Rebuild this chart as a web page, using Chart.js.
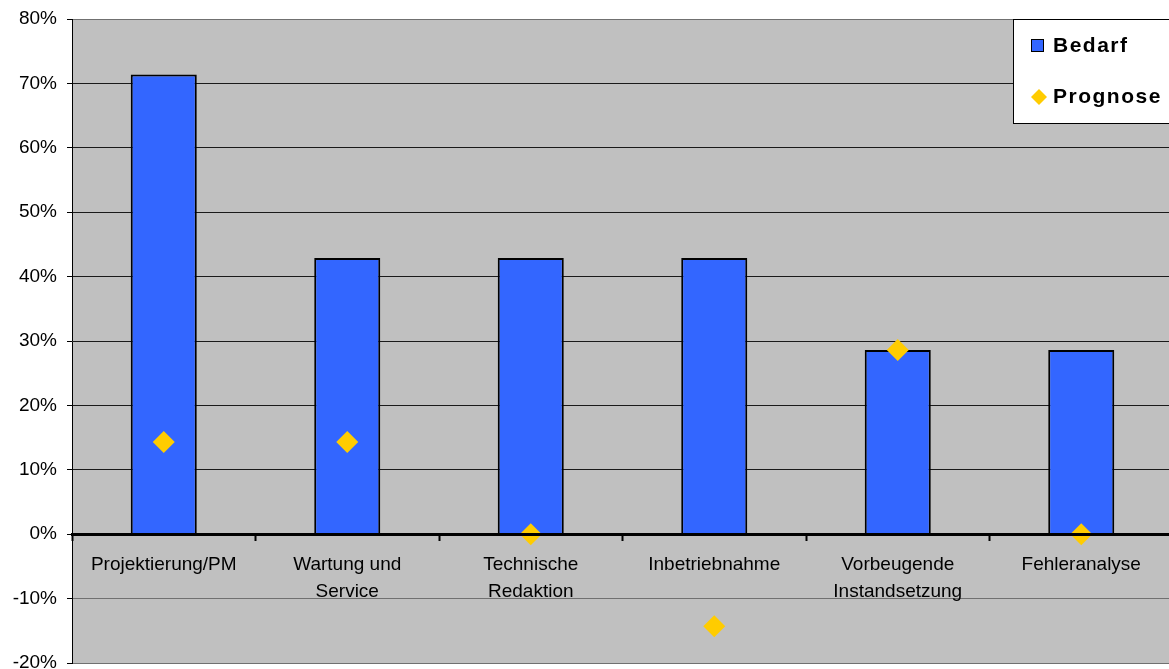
<!DOCTYPE html>
<html>
<head>
<meta charset="utf-8">
<script src="https://cdn.jsdelivr.net/npm/chart.js@4/dist/chart.umd.min.js"></script>
<style>
  html, body { margin: 0; padding: 0; background: #ffffff; overflow: hidden; }
  canvas { display: block; }
</style>
</head>
<body>
<canvas id="c" width="1174" height="669"></canvas>
<script>
// Kategorien (Tätigkeitsfelder)
const categories = [
  'Projektierung/PM',
  ['Wartung und', 'Service'],
  ['Technische', 'Redaktion'],
  'Inbetriebnahme',
  ['Vorbeugende', 'Instandsetzung'],
  'Fehleranalyse'
];
// Anteile in Prozent
const bedarf   = [71.4, 42.9, 42.9, 42.9, 28.6, 28.6];
const prognose = [14.3, 14.3, 0, -14.3, 28.6, 0];
// Wertebereich der Y-Achse
const yMin = -20, yMax = 80, yStep = 10;

const FONT = 'Arial, "Liberation Sans", sans-serif';

// Legende als Kasten oben rechts in der Zeichenfläche
const boxLegend = {
  id: 'boxLegend',
  afterDraw(chart) {
    const ctx = chart.ctx;
    const x = 1013.5, y = 19.5, w = 170, h = 104;
    ctx.save();
    ctx.fillStyle = '#ffffff';
    ctx.fillRect(x, y, w, h);
    ctx.strokeStyle = '#000000';
    ctx.lineWidth = 1;
    ctx.strokeRect(x, y, w, h);
    const ds = chart.data.datasets;
    ctx.font = 'bold 21px ' + FONT;
    if ('letterSpacing' in ctx) ctx.letterSpacing = '1.5px';
    ctx.textBaseline = 'middle';
    // Bedarf: Quadrat
    ctx.fillStyle = ds[0].backgroundColor;
    ctx.fillRect(1031.5, 39.5, 12, 12);
    ctx.strokeStyle = '#000000';
    ctx.strokeRect(1031.5, 39.5, 12, 12);
    ctx.fillStyle = '#000000';
    ctx.fillText(ds[0].label, 1053, 46);
    // Prognose: Raute
    ctx.fillStyle = ds[1].backgroundColor;
    ctx.beginPath();
    ctx.moveTo(1039, 89);
    ctx.lineTo(1047, 97);
    ctx.lineTo(1039, 105);
    ctx.lineTo(1031, 97);
    ctx.closePath();
    ctx.fill();
    ctx.fillStyle = '#000000';
    ctx.fillText(ds[1].label, 1053, 97);
    ctx.restore();
  }
};

// grauer Hintergrund der Zeichenfläche
const plotBg = {
  id: 'plotBg',
  beforeDraw(chart) {
    const a = chart.chartArea, ctx = chart.ctx;
    ctx.save();
    ctx.fillStyle = '#C0C0C0';
    ctx.fillRect(a.left, a.top, a.right - a.left, a.bottom - a.top);
    ctx.restore();
  }
};

new Chart(document.getElementById('c'), {
  type: 'bar',
  data: {
    labels: categories,
    datasets: [
      {
        label: 'Bedarf',
        data: bedarf,
        backgroundColor: '#3366FF',
        borderColor: '#000000',
        borderWidth: 2,
        borderSkipped: 'bottom',
        barPercentage: 0.36,
        categoryPercentage: 1.0,
        order: 2
      },
      {
        label: 'Prognose',
        type: 'line',
        data: prognose,
        showLine: false,
        pointStyle: 'rectRot',
        pointRadius: 11,
        pointHoverRadius: 11,
        backgroundColor: '#FFCC00',
        borderColor: '#FFCC00',
        pointBorderWidth: 0,
        order: 1
      }
    ]
  },
  options: {
    responsive: false,
    maintainAspectRatio: false,
    animation: false,
    events: [],
    layout: { autoPadding: false, padding: { top: 19, bottom: 6, left: 0, right: 1 } },
    plugins: {
      legend: { display: false },
      tooltip: { enabled: false }
    },
    scales: {
      x: {
        position: { y: 0 },
        offset: true,
        afterFit(scale) { scale.paddingLeft = 0; scale.paddingRight = 0; },
        grid: {
          offset: true,
          drawOnChartArea: false,
          drawTicks: true,
          tickLength: 5,
          tickWidth: 2,
          tickColor: '#000000'
        },
        border: { display: true, color: '#000000', width: 3, z: 1 },
        ticks: {
          color: '#000000',
          font: { family: FONT, size: 19, lineHeight: 1.42 },
          padding: 12,
          maxRotation: 0,
          autoSkip: false
        }
      },
      y: {
        min: yMin,
        max: yMax,
        afterFit(scale) {
          scale.width = 72;
          scale.paddingTop = 0;
          scale.paddingBottom = 0;
        },
        ticks: {
          stepSize: yStep,
          color: '#000000',
          font: { family: FONT, size: 19 },
          padding: 10,
          callback: v => v + '%'
        },
        grid: {
          color: c => (c.tick && (c.tick.value < 0 || c.tick.value === yMax)) ? '#707070' : '#1a1a1a',
          lineWidth: 1,
          tickLength: 5,
          tickColor: '#000000'
        },
        border: { display: true, color: '#000000', width: 1 }
      }
    }
  },
  plugins: [plotBg, boxLegend]
});
</script>
</body>
</html>
